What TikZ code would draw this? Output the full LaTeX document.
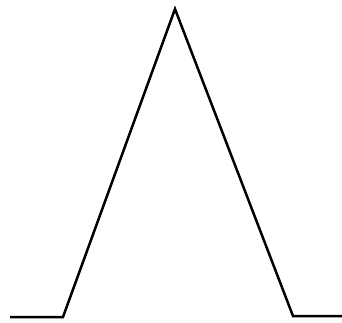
\documentclass[tikz,border=0pt]{standalone}
\begin{document}
\begin{tikzpicture}[x=1pt,y=-1pt,pulse/.style={line width=2.5pt,line join=miter,line cap=butt}]
\useasboundingbox (0,0) rectangle (342,322);
\coordinate (a) at (10,317);
\coordinate (b) at (63,317);
\coordinate (c) at (175,9);
\coordinate (d) at (293,316);
\coordinate (e) at (342,316);
\draw[pulse] (a) -- (b) -- (c) -- (d) -- (e);
\end{tikzpicture}
\end{document}
